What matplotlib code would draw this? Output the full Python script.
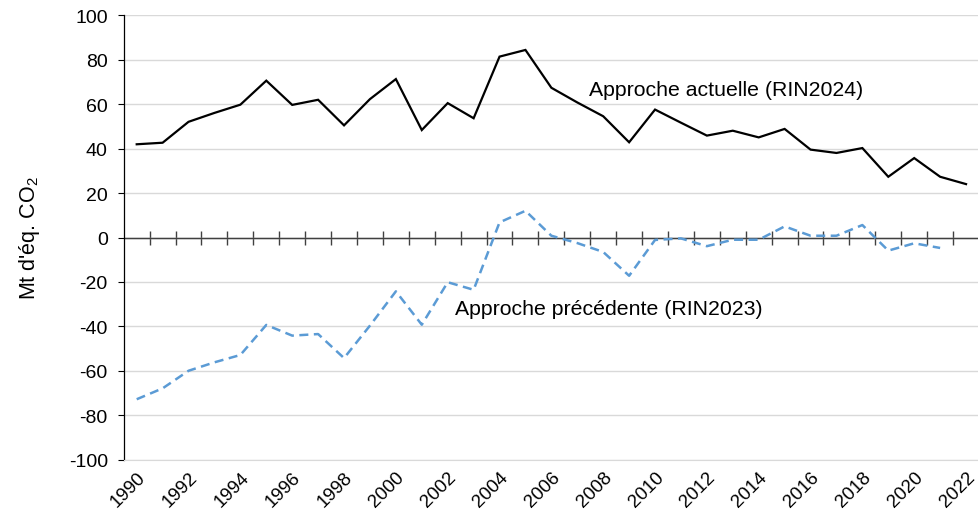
import matplotlib
matplotlib.use("Agg")
import matplotlib.pyplot as plt
import numpy as np

plt.rcParams["font.family"] = ["Liberation Sans", "DejaVu Sans"]
plt.rcParams["mathtext.fontset"] = "custom"
plt.rcParams["mathtext.rm"] = "Liberation Sans"
plt.rcParams["mathtext.it"] = "Liberation Sans:italic"
plt.rcParams["axes.unicode_minus"] = False

years = list(range(1990, 2023))
rin2024 = [41.9, 42.6, 52.0, 56.0, 59.7, 70.5, 59.6, 61.9, 50.4, 62.2,
           71.2, 48.3, 60.4, 53.6, 81.3, 84.3, 67.3, 60.7, 54.5, 42.8,
           57.5, 51.6, 45.8, 48.0, 45.0, 48.8, 39.5, 38.0, 40.2, 27.3,
           35.7, 27.3, 24.0]
rin2023 = [-72.7, -67.8, -59.9, -56.1, -52.8, -39.3, -44.1, -43.4, -54.2, -39.6,
           -24.2, -39.2, -20.1, -23.5, 6.8, 12.0, 0.8, -2.5, -6.5, -17.2,
           -1.1, -0.4, -3.9, -1.0, -1.0, 5.0, 0.8, 0.8, 5.6, -5.9,
           -2.6, -4.7]
label_years = years[::2]

fig = plt.figure(figsize=(9.79, 5.10), dpi=100)
ax = fig.add_axes([0.1264, 0.0961, 0.8736, 0.8725])

x = np.arange(len(years))
ax.plot(x, rin2024, color="black", lw=1.6, solid_joinstyle="miter")
ax.plot(x[:len(rin2023)], rin2023, color="#5b9bd5", lw=1.8,
        dashes=(3.6, 2.2))

ax.set_xlim(-0.5, len(years) - 0.5)
ax.set_ylim(-100, 100)
ax.set_yticks(np.arange(-100, 101, 20))
ax.yaxis.grid(True, color="#d9d9d9", lw=1)
ax.set_axisbelow(True)
ax.tick_params(axis="y", labelsize=14, length=4.5, width=0.8, color="black", pad=7)

# year labels along the bottom, no ticks there
ax.set_xticks([years.index(y) for y in label_years])
ax.set_xticklabels([str(y) for y in label_years], rotation=45,
                   ha="right", va="top", rotation_mode="anchor")
ax.tick_params(axis="x", labelsize=13.5, length=0, pad=6)

for side in ("top", "right"):
    ax.spines[side].set_visible(False)
ax.spines["bottom"].set_color("#d9d9d9")
ax.spines["left"].set_linewidth(0.9)

# zero line with crossing ticks between the years
ax.axhline(0, color="#404040", lw=1, zorder=1.5)
zero = ax.secondary_xaxis(0.5)
zero.set_xticks(np.arange(0.5, len(years) - 0.5, 1))
zero.set_xticklabels([])
zero.tick_params(direction="inout", length=10, width=1, color="#404040")

ax.set_ylabel("Mt d'éq. CO$_2$", fontsize=15.5, labelpad=19)

ax.text(17.47, 66.7, "Approche actuelle (RIN2024)", fontsize=15.3,
        ha="left", va="center")
ax.text(12.27, -31.7, "Approche précédente (RIN2023)", fontsize=15.3,
        ha="left", va="center")

fig.savefig("out.png", dpi=100)
